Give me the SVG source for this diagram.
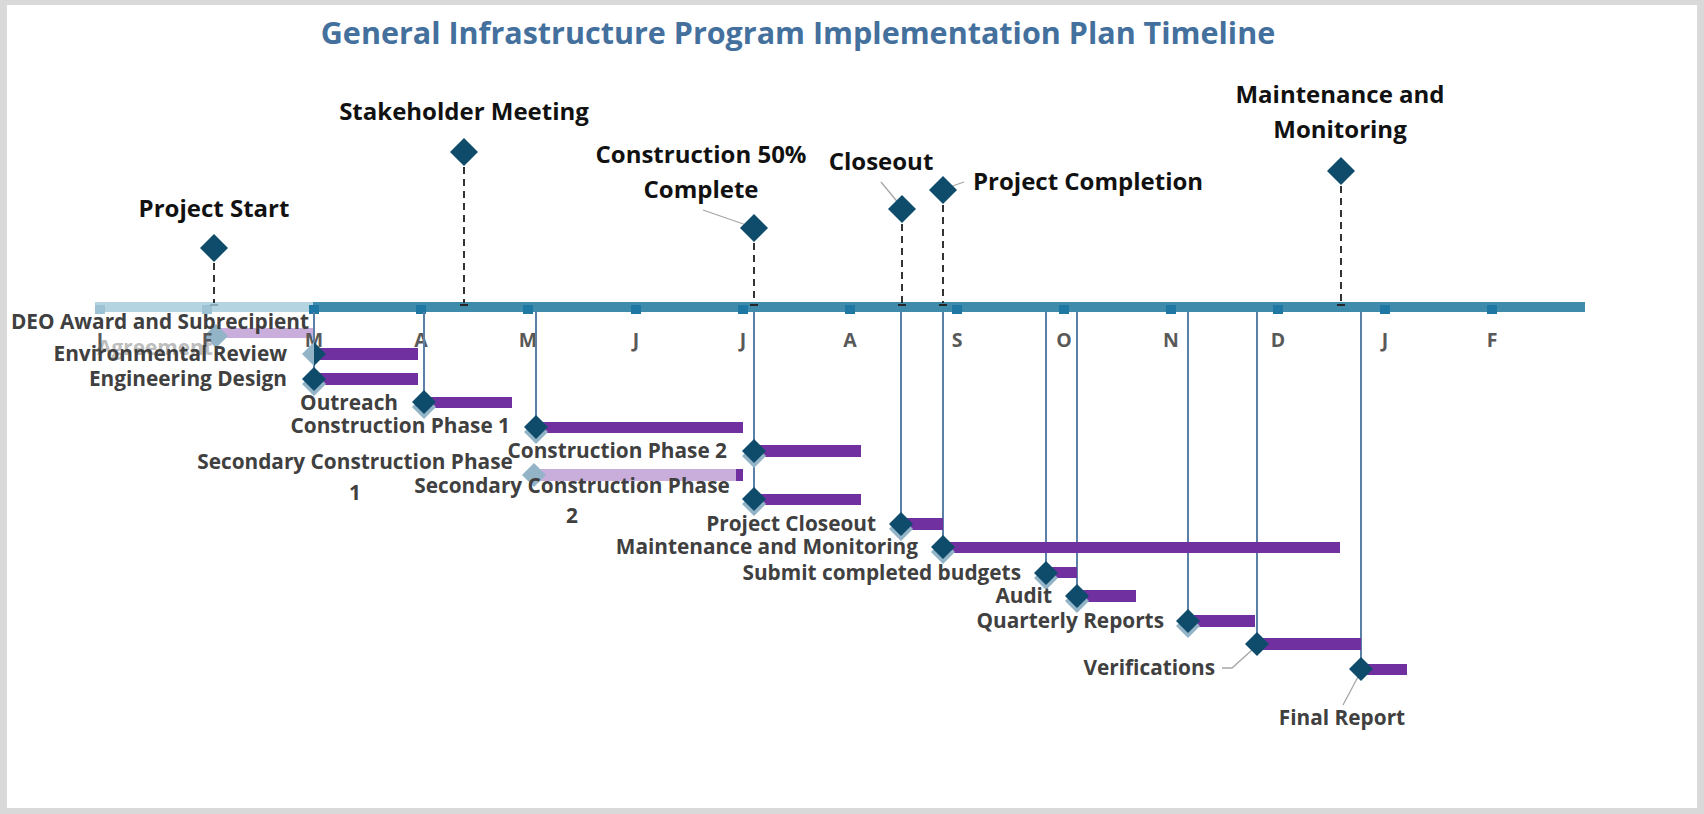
<svg xmlns="http://www.w3.org/2000/svg" width="1704" height="814" viewBox="0 0 1704 814">
<style>
  .title{font-family:"Open Sans","Liberation Sans",sans-serif;font-weight:700;font-size:30.5px;fill:#44709d;text-anchor:middle}
  .ms{font-family:"Open Sans","Liberation Sans",sans-serif;font-weight:700;font-size:24px;fill:#111111}
  .mo{font-family:"Open Sans","Liberation Sans",sans-serif;font-weight:700;font-size:19.5px;fill:#595959;text-anchor:middle}
  .tl{font-family:"Open Sans","Liberation Sans",sans-serif;font-weight:700;font-size:20.8px;fill:#404040}
  .end{text-anchor:end}
  .mid{text-anchor:middle}
  .faded{fill:#bdbdbd}
  .bar{fill:#7030a0}
  .lbar{fill:#c9aedc}
  .dia{fill:#0f4c6c}
  .sh{fill:#93b4c6}
  .tick{fill:#1f78a4}
  .ltick{fill:#9cc2d3}
  .dash{stroke:#333333;stroke-width:2;stroke-dasharray:7 5;fill:none}
  .vline{stroke:#5b80a8;stroke-width:2;fill:none}
  .lead{stroke:#a6a6a6;stroke-width:1.3;fill:none}
  .mk{fill:#262626}
</style>
<defs>
  <path id="md" d="M0,-14 L14,0 L0,14 L-14,0 Z"/>
  <path id="td" d="M0,-12 L12,0 L0,12 L-12,0 Z"/>
</defs>
<rect x="0" y="0" width="1704" height="814" fill="#d9d9d9"/>
<rect x="7" y="5" width="1690" height="803" fill="#ffffff"/>
<text class="title" x="798" y="44">General Infrastructure Program Implementation Plan Timeline</text>

<g id="t-deo">
  <rect class="lbar" x="214" y="328" width="99" height="10"/>
  <use href="#td" class="sh" x="216" y="336"/>
  <text class="tl faded mid" x="155" y="355">Agreement</text>
  <text class="tl mid" x="160" y="329">DEO Award and Subrecipient</text>
</g>

<g id="timeline">
  <rect x="95" y="302" width="218" height="10" fill="#b4d4e1"/>
  <rect x="313" y="302" width="1272" height="10" fill="#3f8bab"/>
  <rect class="ltick" x="95" y="305" width="10" height="9"/>
  <rect class="ltick" x="202" y="305" width="10" height="9"/>
  <rect class="tick" x="309" y="305" width="10" height="9"/>
  <rect class="tick" x="416" y="305" width="10" height="9"/>
  <rect class="tick" x="523" y="305" width="10" height="9"/>
  <rect class="tick" x="631" y="305" width="10" height="9"/>
  <rect class="tick" x="738" y="305" width="10" height="9"/>
  <rect class="tick" x="845" y="305" width="10" height="9"/>
  <rect class="tick" x="952" y="305" width="10" height="9"/>
  <rect class="tick" x="1059" y="305" width="10" height="9"/>
  <rect class="tick" x="1166" y="305" width="10" height="9"/>
  <rect class="tick" x="1273" y="305" width="10" height="9"/>
  <rect class="tick" x="1380" y="305" width="10" height="9"/>
  <rect class="tick" x="1487" y="305" width="10" height="9"/>
  <text class="mo" x="100" y="347">J</text>
  <text class="mo" x="207" y="347">F</text>
  <text class="mo" x="314" y="347">M</text>
  <text class="mo" x="421" y="347">A</text>
  <text class="mo" x="528" y="347">M</text>
  <text class="mo" x="636" y="347">J</text>
  <text class="mo" x="743" y="347">J</text>
  <text class="mo" x="850" y="347">A</text>
  <text class="mo" x="957" y="347">S</text>
  <text class="mo" x="1064" y="347">O</text>
  <text class="mo" x="1171" y="347">N</text>
  <text class="mo" x="1278" y="347">D</text>
  <text class="mo" x="1385" y="347">J</text>
  <text class="mo" x="1492" y="347">F</text>
</g>

<g id="connectors">
  <path class="dash" d="M214,263 V303"/>
  <path class="dash" d="M464,167 V303"/>
  <path class="dash" d="M754,243 V303"/>
  <path class="dash" d="M902,224 V303"/>
  <path class="dash" d="M943,205 V303"/>
  <path class="dash" d="M1341,186 V303"/>
  <rect x="210" y="304" width="8" height="2" fill="#8aa9b8"/>
  <rect class="mk" x="460" y="304" width="8" height="2"/>
  <rect class="mk" x="750" y="304" width="8" height="2"/>
  <rect class="mk" x="898" y="304" width="8" height="2"/>
  <rect class="mk" x="939" y="304" width="8" height="2"/>
  <rect class="mk" x="1337" y="304" width="8" height="2"/>
  <path class="vline" d="M314,312 V379"/>
  <path class="vline" d="M424,312 V402"/>
  <path class="vline" d="M536,312 V427"/>
  <path class="vline" d="M754,312 V499"/>
  <path class="vline" d="M901,312 V524"/>
  <path class="vline" d="M943,312 V547"/>
  <path class="vline" d="M1046,312 V573"/>
  <path class="vline" d="M1077,312 V596"/>
  <path class="vline" d="M1188,312 V621"/>
  <path class="vline" d="M1257,312 V644"/>
  <path class="vline" d="M1361,312 V669"/>
  <path class="lead" d="M703,210 L752,227"/>
  <path class="lead" d="M881,182 L900,205"/>
  <path class="lead" d="M964,182 L944,189"/>
  <path class="lead" d="M1222,668 H1232 L1252,650"/>
  <path class="lead" d="M1343,705 L1360,673"/>
</g>

<g id="m-project-start">
  <use href="#md" class="dia" x="214" y="248"/>
  <text class="ms mid" x="214" y="217">Project Start</text>
</g>
<g id="m-stakeholder">
  <use href="#md" class="dia" x="464" y="152"/>
  <text class="ms mid" x="464" y="120">Stakeholder Meeting</text>
</g>
<g id="m-construction50">
  <use href="#md" class="dia" x="754" y="228"/>
  <text class="ms mid" x="701" y="163">Construction 50%</text>
  <text class="ms mid" x="701" y="198">Complete</text>
</g>
<g id="m-closeout">
  <use href="#md" class="dia" x="902" y="209"/>
  <text class="ms mid" x="881" y="170">Closeout</text>
</g>
<g id="m-completion">
  <use href="#md" class="dia" x="943" y="190"/>
  <text class="ms" x="973" y="190">Project Completion</text>
</g>
<g id="m-maintenance">
  <use href="#md" class="dia" x="1341" y="171"/>
  <text class="ms mid" x="1340" y="103">Maintenance and</text>
  <text class="ms mid" x="1340" y="138">Monitoring</text>
</g>

<g id="t-env">
  <rect class="bar" x="314" y="348" width="104" height="12"/>
  <path class="sh" d="M314,342 L302,354 L314,366 Z"/>
  <path class="dia" d="M314,342 L326,354 L314,366 Z"/>
  <text class="tl end" x="287" y="361">Environmental Review</text>
</g>
<g id="t-eng">
  <rect class="bar" x="314" y="373" width="104" height="12"/>
  <use href="#td" class="sh" x="314" y="384"/>
  <use href="#td" class="dia" x="314" y="379"/>
  <text class="tl end" x="287" y="386">Engineering Design</text>
</g>
<g id="t-outreach">
  <rect class="bar" x="424" y="397" width="88" height="11"/>
  <use href="#td" class="sh" x="424" y="407"/>
  <use href="#td" class="dia" x="424" y="402"/>
  <text class="tl end" x="398" y="410">Outreach</text>
</g>
<g id="t-cp1">
  <rect class="bar" x="536" y="422" width="207" height="11"/>
  <use href="#td" class="sh" x="536" y="432"/>
  <use href="#td" class="dia" x="536" y="427"/>
  <text class="tl end" x="510" y="433">Construction Phase 1</text>
</g>
<g id="t-cp2">
  <rect class="bar" x="754" y="445" width="107" height="12"/>
  <use href="#td" class="sh" x="754" y="456"/>
  <use href="#td" class="dia" x="754" y="451"/>
  <text class="tl end" x="727" y="458">Construction Phase 2</text>
</g>
<g id="t-scp1">
  <rect class="lbar" x="536" y="469" width="200" height="12"/>
  <rect class="bar" x="736" y="469" width="7" height="12"/>
  <use href="#td" class="sh" x="534" y="475"/>
  <text class="tl mid" x="355" y="469">Secondary Construction Phase</text>
  <text class="tl mid" x="355" y="500">1</text>
</g>
<g id="t-scp2">
  <rect class="bar" x="754" y="494" width="107" height="11"/>
  <use href="#td" class="sh" x="754" y="504"/>
  <use href="#td" class="dia" x="754" y="499"/>
  <text class="tl mid" x="572" y="493">Secondary Construction Phase</text>
  <text class="tl mid" x="572" y="523">2</text>
</g>
<g id="t-closeout">
  <rect class="bar" x="901" y="518" width="42" height="12"/>
  <use href="#td" class="sh" x="901" y="529"/>
  <use href="#td" class="dia" x="901" y="524"/>
  <text class="tl end" x="876" y="531">Project Closeout</text>
</g>
<g id="t-maint">
  <rect class="bar" x="943" y="542" width="397" height="11"/>
  <use href="#td" class="sh" x="943" y="552"/>
  <use href="#td" class="dia" x="943" y="547"/>
  <text class="tl end" x="918" y="554">Maintenance and Monitoring</text>
</g>
<g id="t-submit">
  <rect class="bar" x="1046" y="567" width="31" height="11"/>
  <use href="#td" class="sh" x="1046" y="578"/>
  <use href="#td" class="dia" x="1046" y="573"/>
  <text class="tl end" x="1021" y="580">Submit completed budgets</text>
</g>
<g id="t-audit">
  <rect class="bar" x="1077" y="590" width="59" height="12"/>
  <use href="#td" class="sh" x="1077" y="601"/>
  <use href="#td" class="dia" x="1077" y="596"/>
  <text class="tl end" x="1052" y="603">Audit</text>
</g>
<g id="t-quarterly">
  <rect class="bar" x="1188" y="615" width="67" height="12"/>
  <use href="#td" class="sh" x="1188" y="626"/>
  <use href="#td" class="dia" x="1188" y="621"/>
  <text class="tl end" x="1164" y="628">Quarterly Reports</text>
</g>
<g id="t-verif">
  <rect class="bar" x="1257" y="638" width="104" height="12"/>
  <use href="#td" class="dia" x="1257" y="644"/>
  <text class="tl end" x="1215" y="675">Verifications</text>
</g>
<g id="t-final">
  <rect class="bar" x="1361" y="664" width="46" height="11"/>
  <use href="#td" class="dia" x="1361" y="669"/>
  <text class="tl mid" x="1342" y="725">Final Report</text>
</g>
</svg>
